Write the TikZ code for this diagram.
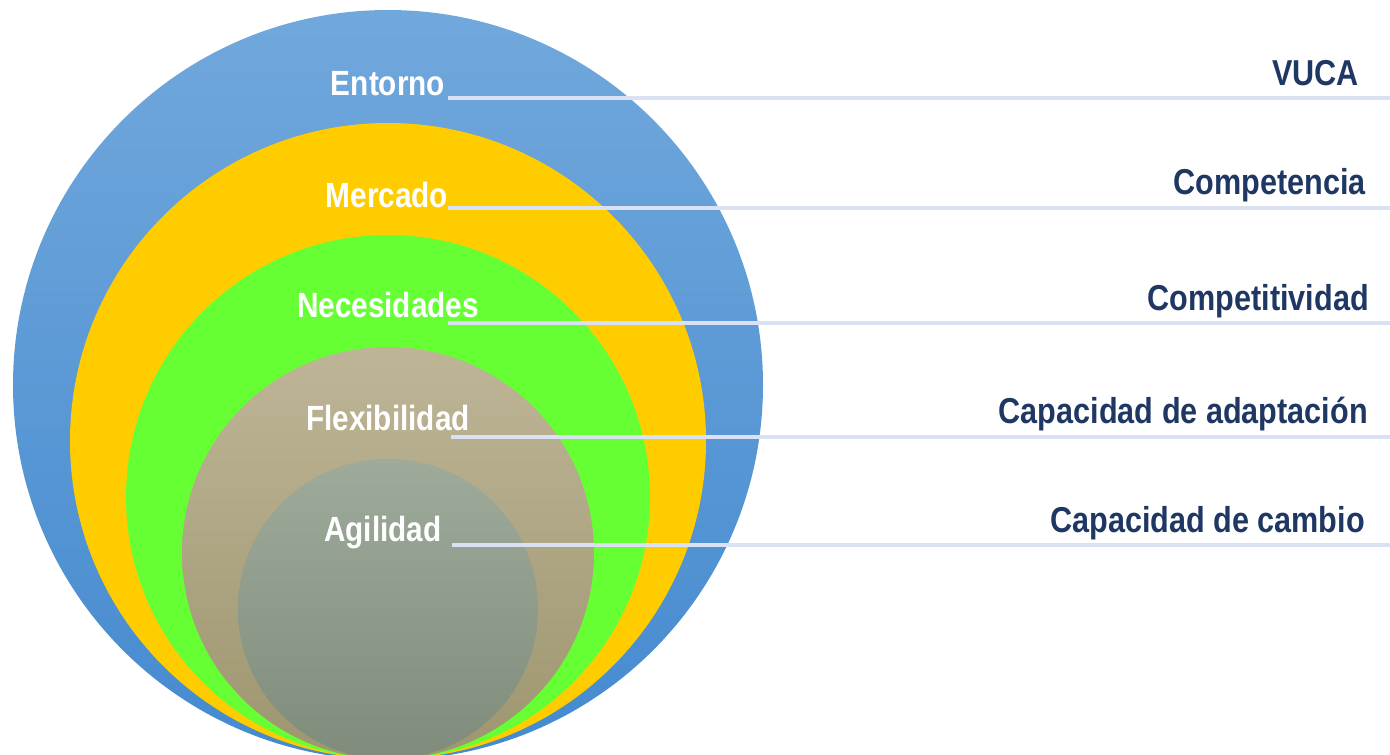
\documentclass[tikz,border=0pt]{standalone}
\usepackage{fontspec}
\newfontfamily\lblfont{Liberation Sans}[FakeStretch=0.85]
\definecolor{blueT}{HTML}{71A8DC}
\definecolor{blueB}{HTML}{458ACF}
\definecolor{yellowF}{HTML}{FFCC00}
\definecolor{greenF}{HTML}{66FF33}
\definecolor{tanT}{HTML}{BDB596}
\definecolor{tanB}{HTML}{9E966F}
\definecolor{greyT}{HTML}{9EAB9B}
\definecolor{greyB}{HTML}{7F8B7B}
\definecolor{guidecol}{HTML}{D9E1F2}
\definecolor{navy}{HTML}{1F3763}
\begin{document}
\begin{tikzpicture}[x=1pt,y=-1pt,
  inlabel/.style={font=\lblfont\bfseries\fontsize{35}{40}\selectfont, text=white, inner sep=0pt, anchor=base},
  outlabel/.style={font=\lblfont\bfseries\fontsize{36}{40}\selectfont, text=navy, inner sep=0pt, anchor=base east},
  guide/.style={draw=guidecol, line width=4pt}]
\useasboundingbox (0,0) rectangle (1390,755);
\begin{scope}
\clip (0,0) rectangle (1390,755);
\shade[top color=blueT, bottom color=blueB] (388,385) circle[radius=375pt];
\fill[yellowF] (388,441) circle[radius=318pt];
\fill[greenF] (388,497) circle[radius=262pt];
\shade[top color=tanT, bottom color=tanB] (388,553) circle[radius=206pt];
\shade[top color=greyT, bottom color=greyB] (388,609) circle[radius=150pt];
\end{scope}
% inner labels
\node[inlabel] (entorno) at (388,95) {Entorno};
\node[inlabel] (mercado) at (387,207) {Mercado};
\node[inlabel] (necesidades) at (388,317) {Necesidades};
\node[inlabel] (flexibilidad) at (388,430) {Flexibilidad};
\node[inlabel] (agilidad) at (383,541) {Agilidad};
% outer labels
\node[outlabel] (vuca) at (1359,85) {VUCA};
\node[outlabel] (competencia) at (1366,194) {Competencia};
\node[outlabel] (competitividad) at (1369,310) {Competitividad};
\node[outlabel] (adaptacion) at (1368,423) {Capacidad de adaptación};
\node[outlabel] (cambio) at (1365,532) {Capacidad de cambio};
% guide lines
\coordinate (g1s) at (448,98);  \coordinate (g1e) at (1390,98);
\coordinate (g2s) at (448,208); \coordinate (g2e) at (1390,208);
\coordinate (g3s) at (448,323); \coordinate (g3e) at (1390,323);
\coordinate (g4s) at (451,437); \coordinate (g4e) at (1390,437);
\coordinate (g5s) at (452,545); \coordinate (g5e) at (1390,545);
\draw[guide] (g1s) -- (g1e);
\draw[guide] (g2s) -- (g2e);
\draw[guide] (g3s) -- (g3e);
\draw[guide] (g4s) -- (g4e);
\draw[guide] (g5s) -- (g5e);
\end{tikzpicture}
\end{document}
